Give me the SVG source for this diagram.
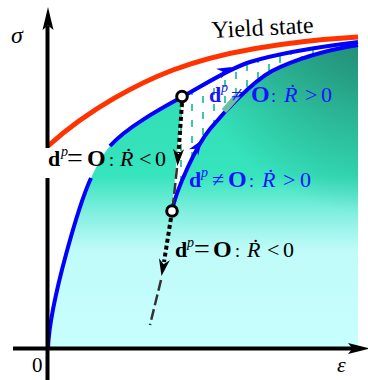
<svg xmlns="http://www.w3.org/2000/svg" xmlns:xlink="http://www.w3.org/1999/xlink" width="368" height="380" viewBox="0 0 368 380">
<style>
.t{font-family:"Liberation Serif","Times New Roman",serif;font-size:22px}
.b{font-weight:bold}
.i{font-style:italic}
.sup{font-style:italic;font-size:14px}
.blk{fill:#000}
.blu{fill:#1414ff}
.bl{fill:none;stroke:#0000ff;stroke-width:4;stroke-linecap:butt}
.dot{fill:none;stroke:#000;stroke-width:4;stroke-dasharray:4 3}
.dash{fill:none;stroke:#333;stroke-width:2.5;stroke-dasharray:11 4}
.node{fill:#fff;stroke:#000;stroke-width:3}
</style>
<defs>
<linearGradient id="g" gradientUnits="userSpaceOnUse" x1="0" y1="40" x2="0" y2="348">
<stop offset="0" stop-color="#2ec4a2"/>
<stop offset="0.23" stop-color="#33dfb7"/>
<stop offset="0.44" stop-color="#36e4bd"/>
<stop offset="0.57" stop-color="#86f0e2"/>
<stop offset="0.68" stop-color="#bffbf8"/>
<stop offset="1" stop-color="#c8ffff"/>
</linearGradient>
<radialGradient id="dk" gradientUnits="userSpaceOnUse" cx="378" cy="24" r="190">
<stop offset="0" stop-color="#1f7f6a" stop-opacity="0.9"/>
<stop offset="0.45" stop-color="#1f7f6a" stop-opacity="0.5"/>
<stop offset="1" stop-color="#1f7f6a" stop-opacity="0"/>
</radialGradient>
<pattern id="hatch" patternUnits="userSpaceOnUse" width="22" height="16">
<rect width="22" height="16" fill="#fff"/>
<rect x="4" y="0" width="2" height="7" fill="#40c8a4"/>
<rect x="15" y="8" width="2" height="7" fill="#40c8a4"/>
</pattern>
<path id="ahK" d="M0,0 L-17,-5.5 L-12,0 L-17,5.5 Z"/>
<path id="ahB" d="M0,0 L-15,-5.5 L-10.5,0 L-15,5.5 Z"/>
</defs>

<g id="region">
<path d="M48,348 C50,300 80,202 91,178 C96,167 103,154 110,146 C127,127 162,108 182,97 C204,85 228,69 250,62 C285,51 330,45.5 358,42 L358,348 Z" fill="url(#g)"/>
<path d="M48,348 C50,300 80,202 91,178 C96,167 103,154 110,146 C127,127 162,108 182,97 C204,85 228,69 250,62 C285,51 330,45.5 358,42 L358,348 Z" fill="url(#dk)"/>
<path d="M182,97 C204,85 228,69 250,62 C285,51 330,45.5 358,42 L358,45 C330,49.5 300,57 272,71 C252,82 225,111 210,129 C196,146 176,190 172,211 Z" fill="url(#hatch)"/>
</g>

<g id="yield-state">
<path d="M48,146 C90,108 140,82.5 173,70 C230,48.5 300,40.5 358,37" fill="none" stroke="#ff3300" stroke-width="5"/>
<text class="t" x="212" y="38" transform="rotate(-3 212 38)" style="font-size:24px">Yield state</text>
</g>

<g id="connectors">
<path class="bl" d="M48,348 C50,300 80,202 91,178"/>
<path class="bl" d="M110,146 C127,127 162,108 182,97 C204,85 228,69 250,62 C285,51 330,45.5 358,42"/>
<path class="bl" d="M172,211 C176,190 196,146 210,129 C225,111 252,82 272,71 C300,57 330,49.5 358,45"/>
<path d="M224,111 L238,95" stroke="#6cbfa0" stroke-width="6" fill="none"/>
<use xlink:href="#ahB" fill="#0000ff" transform="translate(232,67) rotate(-26)"/>
<use xlink:href="#ahB" fill="#0000ff" transform="translate(202,140) rotate(-56)"/>
<line class="dot" x1="182" y1="103" x2="178.5" y2="153"/>
<use xlink:href="#ahK" fill="#000" transform="translate(177.5,166) rotate(93.5)"/>
<line class="dash" x1="177" y1="168" x2="173" y2="205"/>
<line class="dot" x1="171" y1="218" x2="164" y2="262"/>
<use xlink:href="#ahK" fill="#000" transform="translate(161.5,276) rotate(99.8)"/>
<line class="dash" x1="161" y1="280" x2="150" y2="325"/>
</g>

<g id="axes">
<line x1="47.5" y1="380" x2="47.5" y2="178" stroke="#000" stroke-width="4"/>
<line x1="47.5" y1="148" x2="47.5" y2="26" stroke="#000" stroke-width="4"/>
<path d="M48,7 L53.5,30 L48,25.5 L42.5,30 Z" fill="#000"/>
<line x1="13" y1="348.5" x2="354" y2="348.5" stroke="#000" stroke-width="4"/>
<path d="M370,348.5 L348,354 L352.5,348.5 L348,343 Z" fill="#000"/>
<text class="t i" x="11" y="43" style="font-size:24px">σ</text>
<text class="t i" x="337" y="372" style="font-size:22px">ε</text>
<text class="t" x="32" y="372" style="font-size:21px">0</text>
</g>

<g id="node-upper"><circle class="node" cx="182" cy="96.5" r="5.3"/></g>
<g id="node-lower"><circle class="node" cx="172" cy="211" r="5.3"/></g>

<g id="label-1">
<text class="t blk" y="166"><tspan class="b" x="48">d</tspan><tspan class="sup" x="61" y="156">p</tspan><tspan x="67" y="167" style="font-size:28px">=</tspan><tspan class="b" x="87" y="166" style="font-size:24px">O</tspan><tspan x="109" style="font-size:18px">:</tspan><tspan class="i" x="120">Ṙ</tspan><tspan x="139">&lt;</tspan><tspan x="155">0</tspan></text>
</g>
<g id="label-2">
<text class="t blu" y="102"><tspan class="b" x="209">d</tspan><tspan class="sup" x="221" y="92">p</tspan><tspan x="231" y="102">≠</tspan><tspan class="b" x="251" style="font-size:24px">O</tspan><tspan x="271" style="font-size:18px">:</tspan><tspan class="i" x="284">Ṙ</tspan><tspan x="305">&gt;</tspan><tspan x="321">0</tspan></text>
</g>
<g id="label-3">
<text class="t blu" y="187"><tspan class="b" x="189">d</tspan><tspan class="sup" x="201" y="177">p</tspan><tspan x="212" y="187">≠</tspan><tspan class="b" x="228" style="font-size:24px">O</tspan><tspan x="249" style="font-size:18px">:</tspan><tspan class="i" x="262">Ṙ</tspan><tspan x="283">&gt;</tspan><tspan x="300">0</tspan></text>
</g>
<g id="label-4">
<text class="t blk" y="257"><tspan class="b" x="175">d</tspan><tspan class="sup" x="187" y="247">p</tspan><tspan x="194" y="258" style="font-size:28px">=</tspan><tspan class="b" x="213" y="257" style="font-size:24px">O</tspan><tspan x="235" style="font-size:18px">:</tspan><tspan class="i" x="247">Ṙ</tspan><tspan x="267">&lt;</tspan><tspan x="283">0</tspan></text>
</g>
</svg>
